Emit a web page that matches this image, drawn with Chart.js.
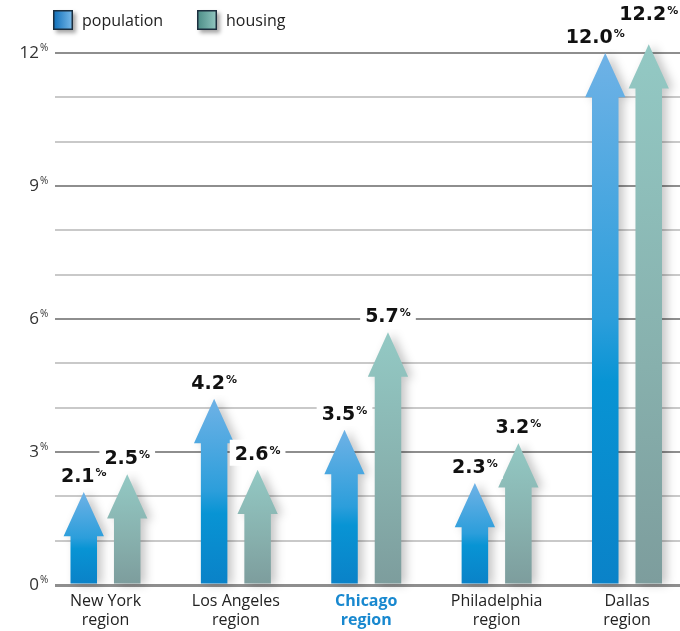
<!DOCTYPE html>
<html>
<head>
<meta charset="utf-8">
<title>Population and housing growth by region</title>
<script src="https://cdn.jsdelivr.net/npm/chart.js@4/dist/chart.umd.min.js"></script>
<style>
  html, body { margin: 0; padding: 0; background: #ffffff; }
  #wrap { width: 680px; height: 631px; }
</style>
</head>
<body>
<div id="wrap"><canvas id="chart" width="680" height="631"></canvas></div>
<script>
// Growth by metro region, in percent
const regions = ['New York', 'Los Angeles', 'Chicago', 'Philadelphia', 'Dallas'];
const population = [2.1, 4.2, 3.5, 2.3, 12.0];
const housing = [2.5, 2.6, 5.7, 3.2, 12.2];
const seriesNames = ['population', 'housing'];
const yTickValues = [0, 3, 6, 9, 12];
const highlightRegion = 'Chicago';

// Look of each series: vertical gradient stops (tip -> base) and legend swatch colours
const seriesStyle = [
  { stops: [[0, '#6fb2e6'], [0.5, '#2c9edb'], [0.62, '#0894d4'], [1, '#0a82c8']],
    swatch: ['#0c6db8', '#7cbcea'] },
  { stops: [[0, '#93c9c4'], [0.6, '#87b0ad'], [1, '#7d9d9d']],
    swatch: ['#4a8c86', '#93c8c2'] }
];

const FONT = '"Open Sans", "Liberation Sans", Arial, sans-serif';
const BOLD_FONT = '"DejaVu Sans", "Liberation Sans", Arial, sans-serif';

function toPoints(values) {
  return values.map((v, i) => ({ x: i, y: v }));
}

// Draws every bar as an upward arrow, plus its value label on a white plate
const arrowPlugin = {
  id: 'arrowBars',
  afterDatasetsDraw(chart, args, opts) {
    const { ctx } = chart;
    const yScale = chart.scales.y;
    const headH = yScale.getPixelForValue(0) - yScale.getPixelForValue(1);
    const metas = chart.data.datasets.map((d, i) => chart.getDatasetMeta(i));

    metas.forEach((meta, di) => {
      const style = seriesStyle[di];
      meta.data.forEach(el => {
        const { x, y: tip, base, width } = el.getProps(['x', 'y', 'base', 'width'], true);
        const half = width / 2;
        const headHalf = width * 0.76;
        const grad = ctx.createLinearGradient(0, tip, 0, base);
        style.stops.forEach(([o, c]) => grad.addColorStop(o, c));
        ctx.save();
        ctx.shadowColor = 'rgba(0,0,0,0.22)';
        ctx.shadowBlur = 10;
        ctx.shadowOffsetX = 5;
        ctx.shadowOffsetY = 1;
        ctx.beginPath();
        ctx.moveTo(x, tip);
        ctx.lineTo(x + headHalf, tip + headH);
        ctx.lineTo(x + half, tip + headH);
        ctx.lineTo(x + half, base);
        ctx.lineTo(x - half, base);
        ctx.lineTo(x - half, tip + headH);
        ctx.lineTo(x - headHalf, tip + headH);
        ctx.closePath();
        ctx.fillStyle = grad;
        ctx.fill();
        ctx.restore();
      });
    });

    // value labels
    const nudge = opts.nudge || {};
    metas.forEach((meta, di) => {
      const values = chart.data.datasets[di].data;
      meta.data.forEach((el, i) => {
        const { x, y: tip } = el.getProps(['x', 'y'], true);
        const num = values[i].y.toFixed(1);
        const [dx, dy] = nudge[di + '-' + i] || [0, 0];
        ctx.save();
        ctx.font = 'bold 19px ' + BOLD_FONT;
        const wNum = ctx.measureText(num).width;
        ctx.font = 'bold 11px ' + BOLD_FONT;
        const wPct = ctx.measureText('%').width;
        const total = wNum + 1 + wPct;
        const left = x - total / 2 + dx;
        const baseline = tip - 10 + dy;
        ctx.fillStyle = '#ffffff';
        ctx.fillRect(left - 5, baseline - 20, total + 10, 26);
        ctx.fillStyle = '#111111';
        ctx.textBaseline = 'alphabetic';
        ctx.textAlign = 'left';
        ctx.font = 'bold 19px ' + BOLD_FONT;
        ctx.fillText(num, left, baseline);
        ctx.font = 'bold 11px ' + BOLD_FONT;
        ctx.fillText('%', left + wNum + 1, baseline - 6);
        ctx.restore();
      });
    });
  }
};

// Y tick labels with a raised percent sign
const yLabelPlugin = {
  id: 'yLabels',
  afterDraw(chart) {
    const { ctx } = chart;
    const yScale = chart.scales.y;
    ctx.save();
    ctx.fillStyle = '#333333';
    yTickValues.forEach(v => {
      const py = yScale.getPixelForValue(v);
      ctx.font = '17px ' + FONT;
      ctx.textAlign = 'right';
      ctx.textBaseline = 'middle';
      ctx.fillText(String(v), 39, py);
      ctx.font = '10px ' + FONT;
      ctx.textAlign = 'left';
      ctx.fillText('%', 40, py - 5);
    });
    ctx.restore();
  }
};

// Legend with shaded swatches
const legendPlugin = {
  id: 'swatchLegend',
  afterDraw(chart) {
    const { ctx } = chart;
    const items = [{ x: 53 }, { x: 197 }];
    ctx.save();
    seriesNames.forEach((name, i) => {
      const bx = items[i].x, by = 10, s = 20;
      const st = seriesStyle[i].swatch;
      ctx.save();
      ctx.shadowColor = 'rgba(0,0,0,0.35)';
      ctx.shadowBlur = 4;
      ctx.shadowOffsetX = 3;
      ctx.shadowOffsetY = 3;
      const g = ctx.createLinearGradient(bx, 0, bx + s, 0);
      g.addColorStop(0, st[0]);
      g.addColorStop(1, st[1]);
      ctx.fillStyle = g;
      ctx.fillRect(bx, by, s, s);
      ctx.restore();
      ctx.strokeStyle = '#1c2f3f';
      ctx.lineWidth = 1.5;
      ctx.strokeRect(bx + 0.75, by + 0.75, s - 1.5, s - 1.5);
      ctx.fillStyle = '#222222';
      ctx.font = '16px ' + FONT;
      ctx.textAlign = 'left';
      ctx.textBaseline = 'middle';
      ctx.fillText(name, bx + 29, by + s / 2 + 1);
    });
    ctx.restore();
  }
};

new Chart(document.getElementById('chart'), {
  type: 'bar',
  data: {
    datasets: [
      { label: seriesNames[0], data: toPoints(population), backgroundColor: 'rgba(0,0,0,0)', borderWidth: 0 },
      { label: seriesNames[1], data: toPoints(housing), backgroundColor: 'rgba(0,0,0,0)', borderWidth: 0 }
    ]
  },
  options: {
    responsive: false,
    animation: false,
    events: [],
    categoryPercentage: 0.667,
    barPercentage: 0.61,
    layout: { padding: { top: 53, left: 0, right: 0, bottom: 0 } },
    plugins: {
      legend: { display: false },
      tooltip: { enabled: false },
      arrowBars: { nudge: { '0-4': [-10, 0], '1-4': [0, -14] } }
    },
    scales: {
      x: {
        type: 'linear',
        min: -0.3873,
        max: 4.4065,
        offset: false,
        afterBuildTicks: s => { s.ticks = regions.map((r, i) => ({ value: i })); },
        afterFit: s => { s.height = 46; },
        grid: { display: false, drawTicks: false },
        border: { display: false },
        ticks: {
          padding: 7,
          maxRotation: 0,
          autoSkip: false,
          callback: (v) => [regions[v], 'region'],
          color: c => regions[c.index] === highlightRegion ? '#1888cf' : '#222222',
          font: c => ({ family: FONT, size: 16, weight: regions[c.index] === highlightRegion ? 'bold' : 'normal', lineHeight: 1.2 })
        }
      },
      y: {
        min: 0,
        max: 12,
        afterFit: s => { s.width = 55; },
        grid: {
          drawTicks: false,
          color: c => (c.tick.value % 3 === 0 ? '#8e8e8e' : '#c9c9c9'),
          lineWidth: c => (c.tick.value === 0 ? 3 : 2)
        },
        border: { display: false },
        ticks: { display: false, stepSize: 1 }
      }
    }
  },
  plugins: [arrowPlugin, yLabelPlugin, legendPlugin]
});
</script>
</body>
</html>
